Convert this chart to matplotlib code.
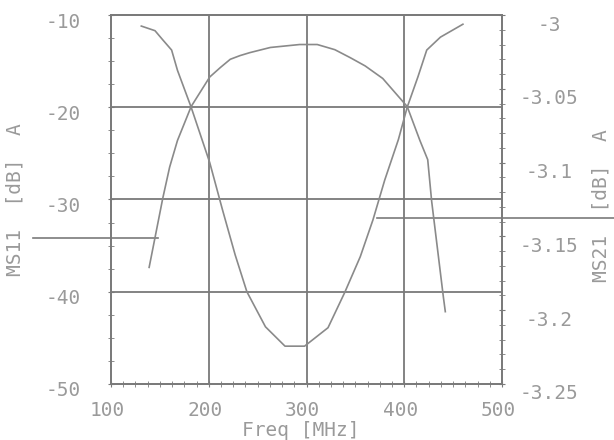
import matplotlib.pyplot as plt
import matplotlib.transforms as mtransforms
from matplotlib.ticker import MultipleLocator

# S11 trace (left axis, dB)
freq_s11 = [131, 145, 153, 162, 168, 182, 201, 214, 227, 239, 258, 278,
            298, 322, 339, 355, 368, 380, 394, 403, 414, 423, 437, 460]
s11 = [-11.2, -11.7, -12.7, -13.8, -16.0, -20.0, -26.0, -31.1, -36.0, -40.0,
       -43.8, -45.9, -45.9, -43.9, -40.1, -36.2, -32.2, -27.9, -23.5, -20.0,
       -16.7, -13.8, -12.4, -11.0]

# S21 trace (right axis, dB)
freq_s21 = [139, 153, 160, 168, 182, 201, 212, 222, 232, 242, 263, 278, 293,
            311, 329, 345, 360, 378, 403, 416, 424, 428, 440, 442]
s21 = [-3.171, -3.124, -3.103, -3.085, -3.062, -3.042, -3.0355, -3.030,
       -3.0275, -3.0255, -3.022, -3.021, -3.020, -3.020, -3.0235, -3.029,
       -3.0345, -3.043, -3.062, -3.085, -3.098, -3.126, -3.191, -3.201]

# marker level lines: (start MHz, end MHz, level dB on S11 scale)
marker_left = (20, 148, -34.2)
marker_right = (372, 615, -32.0)

x_ticks = [100, 200, 300, 400, 500]
left_ticks = [-10, -20, -30, -40, -50]
left_labels = ['-10', '-20', '-30', '-40', '-50']
right_ticks = [-3.0, -3.05, -3.1, -3.15, -3.2, -3.25]
right_labels = ['-3', '-3.05', '-3.1', '-3.15', '-3.2', '-3.25']

line_c = '#8a8a8a'
grid_c = '#7a7a7a'
text_c = '#9a9a9a'
font = 'DejaVu Sans Mono'
fs = 14
px = 72 / 100  # one pixel in points

fig = plt.figure(figsize=(6.14, 4.40), dpi=100)
ax = fig.add_axes([0.1808, 0.1273, 0.6368, 0.8386])
ax2 = ax.twinx()

ax.set_xlim(100, 500)
ax.set_ylim(-50, -10)
ax2.set_ylim(-3.25, -3.0)

for a in (ax, ax2):
    for s in a.spines.values():
        s.set_color(grid_c)
        s.set_linewidth(1.3)

ax.plot(freq_s11, s11, color=line_c, lw=1.2, zorder=3)
ax2.plot(freq_s21, s21, color=line_c, lw=1.2, zorder=3)

for x0, x1, lvl in (marker_left, marker_right):
    ax.plot([x0, x1], [lvl, lvl], color=grid_c, lw=1.2, clip_on=False)

# grid only at the inner major ticks
for xv in x_ticks[1:-1]:
    ax.axvline(xv, color=grid_c, lw=1.3)
for yv in left_ticks[1:-1]:
    ax.axhline(yv, color=grid_c, lw=1.3)

ax.set_xticks(x_ticks)
ax.set_xticklabels([str(v) for v in x_ticks])
ax.set_yticks(left_ticks)
ax.set_yticklabels(left_labels, ha='right')
ax2.set_yticks(right_ticks)
ax2.set_yticklabels(right_labels, ha='center')

ax.xaxis.set_minor_locator(MultipleLocator(12.5))
ax.yaxis.set_minor_locator(MultipleLocator(2.5))
ax2.yaxis.set_minor_locator(MultipleLocator(0.01))

tick_kw = dict(direction='inout', color=grid_c, labelcolor=text_c, labelsize=fs)
ax.tick_params(axis='x', which='major', length=5, pad=14 * px, **tick_kw)
ax.tick_params(axis='y', which='major', length=5, pad=27 * px, **tick_kw)
ax2.tick_params(axis='y', which='major', length=5, pad=44 * px, **tick_kw)
ax.tick_params(which='minor', direction='inout', length=4, color=grid_c)
ax2.tick_params(which='minor', direction='inout', length=4, color=grid_c)

for t in ax.get_xticklabels() + ax.get_yticklabels() + ax2.get_yticklabels():
    t.set_family(font)

# tick labels sit a few pixels below their ticks
shift_l = mtransforms.ScaledTranslation(0, -5 / 100, fig.dpi_scale_trans)
shift_r = mtransforms.ScaledTranslation(0, -8 / 100, fig.dpi_scale_trans)
shift_x = mtransforms.ScaledTranslation(-4 / 100, 0, fig.dpi_scale_trans)
for t in ax.get_yticklabels():
    t.set_transform(t.get_transform() + shift_l)
for t in ax2.get_yticklabels():
    t.set_transform(t.get_transform() + shift_r)
for t in ax.get_xticklabels():
    t.set_transform(t.get_transform() + shift_x)

fig.text(301 / 614, 1 - 430 / 440, 'Freq [MHz]', ha='center', va='center',
         family=font, fontsize=fs, color=text_c)
fig.text(15 / 614, 1 - 200 / 440, 'MS11  [dB]  A', ha='center', va='center',
         rotation=90, family=font, fontsize=fs, color=text_c)
fig.text(601 / 614, 1 - 206 / 440, 'MS21  [dB]  A', ha='center', va='center',
         rotation=90, family=font, fontsize=fs, color=text_c)

fig.savefig('out.png', dpi=100)
